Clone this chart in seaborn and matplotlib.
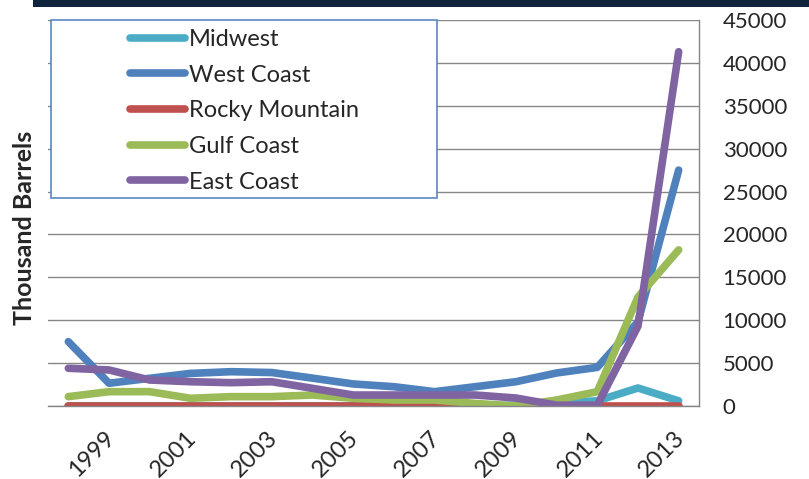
import matplotlib
matplotlib.use('Agg')
import matplotlib.pyplot as plt
import matplotlib.transforms as mtransforms
from matplotlib.lines import Line2D
from matplotlib.patches import Rectangle
import numpy as np
import pandas as pd
import seaborn as sns

# data (thousand barrels)
years = list(range(1998, 2014))
regions = ['Midwest', 'West Coast', 'Rocky Mountain', 'Gulf Coast', 'East Coast']
midwest = [0, 0, 0, 0, 0, 0, 0, 0, 0, 0, 0, 100, 400, 600, 2100, 600]
west_coast = [7500, 2650, 3230, 3800, 4000, 3900, 3250, 2570, 2250, 1670, 2250, 2830, 3850, 4500, 9800, 27500]
rocky_mountain = [0] * 16
gulf_coast = [1090, 1670, 1670, 900, 1090, 1090, 1280, 900, 700, 700, 300, 0, 700, 1670, 12700, 18200]
east_coast = [4400, 4200, 3030, 2830, 2720, 2830, 2060, 1280, 1280, 1280, 1280, 930, 100, 100, 9300, 41300]
colors = ['#4BACC6', '#4F81BD', '#C0504D', '#9BBB59', '#8064A2']

series = [midwest, west_coast, rocky_mountain, gulf_coast, east_coast]
df = pd.concat([pd.DataFrame({'year': years, 'value': v, 'region': r})
                for r, v in zip(regions, series)], ignore_index=True)

sns.set_style('white')
plt.rcParams['font.family'] = ['Lato', 'DejaVu Sans']

fig = plt.figure(figsize=(8.09, 4.79), dpi=100)
ax = fig.add_axes([48 / 809, 1 - 406 / 479, (699 - 48) / 809, (406 - 20) / 479])

sns.lineplot(data=df, x='year', y='value', hue='region', hue_order=regions,
             palette=colors, linewidth=5.5, ax=ax, legend=False)
for ln in ax.lines:
    ln.set_solid_capstyle('round')
    ln.set_solid_joinstyle('round')

ax.set_xlim(1997.5, 2013.5)
ax.set_ylim(0, 45000)
ax.set_yticks(np.arange(0, 45001, 5000))
ax.set_xticks(years[1::2])
ax.set_xticklabels([str(y) for y in years[1::2]], rotation=45, ha='right',
                   rotation_mode='anchor', fontsize=17)
ax.yaxis.tick_right()
ax.tick_params(axis='y', length=0, pad=17, labelsize=16)
ax.tick_params(axis='x', length=0, pad=15)
ax.grid(axis='y', color='#868686', linewidth=1)
ax.set_axisbelow(True)
ax.set_xlabel('')
ax.set_ylabel('')
for s in ['left', 'top']:
    ax.spines[s].set_visible(False)
for s in ['right', 'bottom']:
    ax.spines[s].set_color('#868686')
    ax.spines[s].set_linewidth(1)

# nudge rotated year labels a little to the left
shift = mtransforms.ScaledTranslation(-5 / 100, 0, fig.dpi_scale_trans)
for lbl in ax.get_xticklabels():
    lbl.set_transform(lbl.get_transform() + shift)

# legend box
fig.patches.append(Rectangle((51 / 809, 1 - 198 / 479), (437 - 51) / 809, (198 - 20) / 479,
                             transform=fig.transFigure, facecolor='white',
                             edgecolor='#5B86C0', linewidth=1.2, zorder=3))
handles = [Line2D([], [], color=c, linewidth=5.5, solid_capstyle='round') for c in colors]
leg = fig.legend(handles, regions, loc='upper left', bbox_to_anchor=(130 / 809, 1 - 29 / 479),
                 frameon=False, fontsize=17, handlelength=2.35, handletextpad=0.15,
                 labelspacing=0.62, borderpad=0, borderaxespad=0)
leg.set_zorder(4)

fig.text(25 / 809, 1 - 228 / 479, 'Thousand Barrels', rotation=90, fontsize=18,
         fontweight='bold', ha='center', va='center')

# dark header band
fig.patches.append(Rectangle((33 / 809, 1 - 7 / 479), 1, 7 / 479,
                             transform=fig.transFigure, facecolor='#10243E',
                             edgecolor='none'))

fig.savefig('out.png', dpi=100)
